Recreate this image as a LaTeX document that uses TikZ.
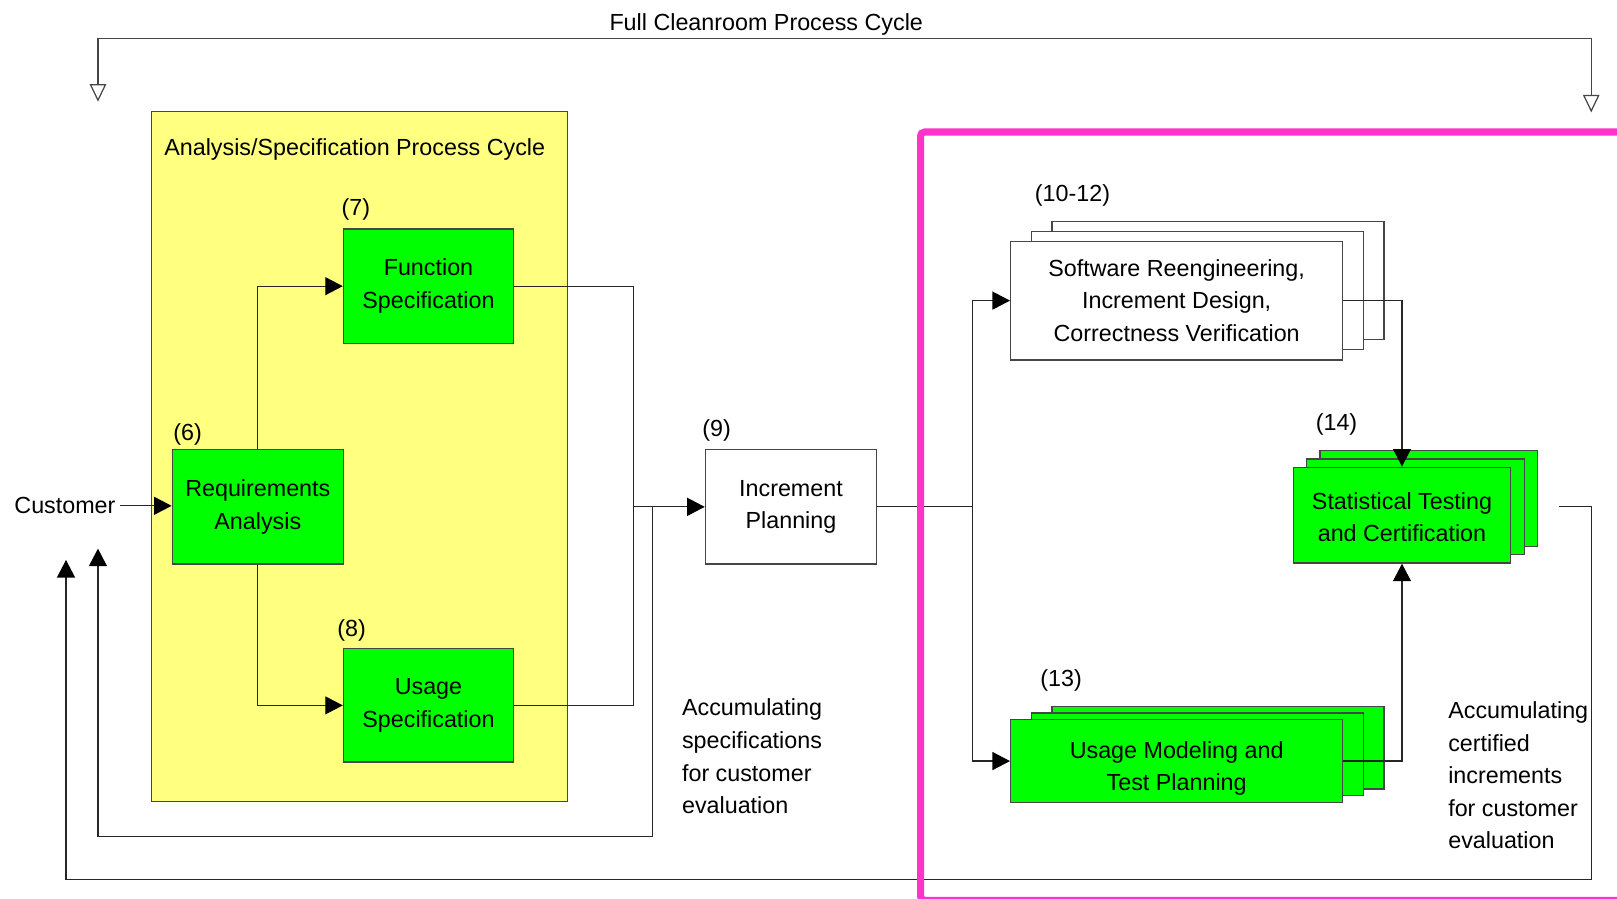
\documentclass[tikz,border=0pt]{standalone}
\usepackage{fontspec}
\setmainfont{Liberation Sans}
\usetikzlibrary{arrows.meta}
\definecolor{boxgreen}{RGB}{0,255,0}
\definecolor{paleyellow}{RGB}{255,255,128}
\definecolor{framepink}{RGB}{255,51,204}
\definecolor{linegray}{RGB}{70,70,70}

\begin{document}
\begin{tikzpicture}[x=0.5pt,y=-0.5pt,
  every node/.style={font=\fontsize{11.3pt}{15.8pt}\selectfont, inner sep=0pt},
  procbox/.style={draw=linegray, line width=0.6pt, align=center},
  greenbox/.style={procbox, fill=boxgreen},
  whitebox/.style={procbox, fill=white},
  conn/.style={draw=black!85, line width=0.6pt},
  arr/.style={conn, -{Triangle[length=8.5pt,width=8.7pt,color=black]}},
  cyclearr/.style={draw=linegray, line width=0.6pt,
    {Triangle[open,length=8.5pt,width=8pt,fill=white]}-{Triangle[open,length=8.5pt,width=8pt,fill=white]}},
]
\clip (0,0) rectangle (1568,871);
\fill[white] (0,0) rectangle (1568,871);

% full process cycle bracket
\node (fulltitle) at (743,24) {Full Cleanroom Process Cycle};
\coordinate (cycL) at (95,98.6);
\coordinate (cycM) at (743,37);
\coordinate (cycR) at (1543,109);
\draw[cyclearr] (cycL) |- (cycM) -| (cycR);

% analysis / specification cycle
\node[fill=paleyellow, draw=linegray, line width=0.6pt,
      minimum width=201.5pt, minimum height=334.5pt] (yel) at (348.5,442.5) {};
\node (yeltitle) at (344,145) {Analysis/Specification Process Cycle};

\node[greenbox, minimum width=83pt, minimum height=55.5pt] (req) at (250,491.5) {Requirements\\Analysis};
\node[greenbox, minimum width=82.5pt, minimum height=55.5pt] (func) at (415.5,277.5) {Function\\Specification};
\node[greenbox, minimum width=82.5pt, minimum height=55pt] (usage) at (415.5,684) {Usage\\Specification};
\node (n6) at (182,421) {(6)};
\node (n7) at (345,203) {(7)};
\node (n8) at (341,611) {(8)};

\node[inner sep=2pt] (cust) at (63,490.5) {Customer};

% increment planning
\node[whitebox, minimum width=83pt, minimum height=55.5pt] (incr) at (767,491.5) {Increment\\Planning};
\node (n9) at (695,417) {(9)};

% stacked boxes: software reengineering
\node[whitebox, minimum width=161pt, minimum height=57.5pt] (sr3) at (1181,272) {};
\node[whitebox, minimum width=161pt, minimum height=57.5pt] (sr2) at (1161,281.75) {};
\node[whitebox, minimum width=161pt, minimum height=57.5pt] (sr) at (1141,291.5)
  {Software Reengineering,\\Increment Design,\\Correctness Verification};
\node (n1012) at (1040,190) {(10-12)};

% stacked boxes: statistical testing
\node[greenbox, minimum width=105.5pt, minimum height=46.5pt] (st3) at (1385.5,483.5) {};
\node[greenbox, minimum width=105.5pt, minimum height=46.5pt] (st2) at (1372.5,491.5) {};
\node[greenbox, minimum width=105.5pt, minimum height=46.5pt] (st) at (1359.5,499.5) {};
\node[align=center] (sttext) at (1359.5,501.5) {Statistical Testing\\and Certification};
\node (n14) at (1296,412) {(14)};

% stacked boxes: usage modeling
\node[greenbox, minimum width=161pt, minimum height=40pt] (um3) at (1181,725) {};
\node[greenbox, minimum width=161pt, minimum height=40pt] (um2) at (1161,731.5) {};
\node[greenbox, minimum width=161pt, minimum height=40pt] (um) at (1141,738) {};
\node[align=center] (umtext) at (1141,745) {Usage Modeling and\\Test Planning};
\node (n13) at (1029,660) {(13)};

% side notes
\node[anchor=north west, align=left] (note1) at (661,677.5)
  {Accumulating\\specifications\\for customer\\evaluation};
\node[anchor=north west, align=left] (note2) at (1404,680)
  {Accumulating\\certified\\increments\\for customer\\evaluation};

% connectors in the specification cycle
\draw[arr] (cust.east) -- (cust.east -| req.west);
\draw[arr] (req.north) |- (func.west);
\draw[arr] (req.south) |- (usage.west);
\coordinate (j1) at (614,491.5);
\draw[conn] (func.east) -| (j1);
\draw[conn] (usage.east) -| (j1);
\draw[arr] (j1) -- (incr.west);

% specification feedback to customer
\coordinate (j2) at (633,491.5);
\coordinate (fbc) at (633,811);
\coordinate (fbtip) at (95,532);
\draw[arr] (j2) -- (fbc) -| (fbtip);

% increment flow
\coordinate (j3) at (943,491.5);
\draw[conn] (incr.east) -- (j3);
\draw[arr] (j3) |- (sr.west);
\draw[arr] (j3) |- (um.west);
\draw[arr] (sr.east) -| (st.north);
\draw[arr] (um.east) -| (st.south);

% certified increments back to customer
\coordinate (out0) at (1512,491.5);
\coordinate (outc) at (1543,852.5);
\coordinate (otip) at (64,543);
\draw[arr] (out0) -| (outc) -| (otip);

% cleanroom frame
\draw[framepink, line width=3.4pt, rounded corners=2pt]
  (1650,128) -- (892.6,128) -- (892.6,873) -- (1650,873);
\end{tikzpicture}
\end{document}
